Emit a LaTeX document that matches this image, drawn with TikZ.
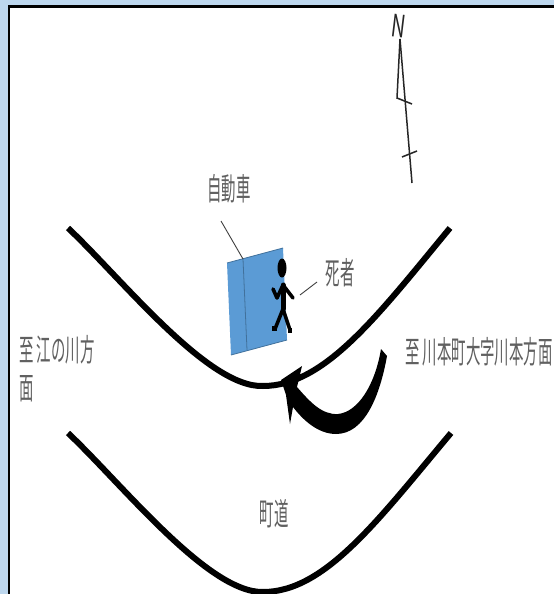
\documentclass[tikz,border=0pt]{standalone}
\usepackage{fontspec}
\usepackage{graphicx}
\newfontfamily\cjk{Noto Sans CJK JP}
\newcommand{\nar}[1]{\scalebox{.465}[1]{#1}}
\definecolor{pagebg}{HTML}{BDD7EE}
\definecolor{carblue}{HTML}{5B9BD5}
\definecolor{caredge}{HTML}{41719C}
\definecolor{txt}{HTML}{606060}
\tikzset{
  road/.style={line width=6pt,black},
  leader/.style={line width=.9pt,draw=black!75},
  limb/.style={line width=3.6pt,black,line cap=round,line join=round},
  lab/.style={font=\cjk\fontsize{31}{34}\selectfont,text=txt,inner sep=0pt},
  compass/.style={line width=1.5pt,draw=black!85},
}
\begin{document}
\begin{tikzpicture}[x=1pt,y=-1pt]
\useasboundingbox (0,0) rectangle (554,594);
\fill[pagebg] (0,0) rectangle (554,594);
\fill[white] (8,6) rectangle (554,594);
\draw[line width=2.4pt,black] (9,594) -- (9,6.5) -- (554,6.5);
% roads
\coordinate (r1a) at (68,228); \coordinate (r1b) at (450,228);
\coordinate (r2a) at (68,433); \coordinate (r2b) at (451,433);
\draw[road] (r1a) .. controls (122,279) and (208,388) .. (263,386) .. controls (325,386) and (378,315) .. (r1b);
\draw[road] (r2a) .. controls (122,484) and (208,593) .. (263,592) .. controls (325,592) and (378,520) .. (r2b);
% car
\coordinate (c1) at (227,263); \coordinate (c2) at (283,248);
\coordinate (c3) at (287,340); \coordinate (c4) at (231,355);
\coordinate (d1) at (243,259); \coordinate (d2) at (247,350);
\fill[carblue] (c1) -- (c2) -- (c3) -- (c4) -- cycle;
\draw[line width=.8pt,caredge] (c1) -- (c2) (c3) -- (c4);
\draw[line width=.8pt,caredge] (d1) -- (d2);
\coordinate (l1) at (221,221);
\draw[leader] (l1) -- (d1);
% person
\fill[black] (282,268) ellipse (4.5 and 9.5);
\coordinate (sh) at (283,285); \coordinate (hip) at (283,309);
\draw[limb,line width=5pt] (sh) -- (hip);
\draw[limb] (hip) -- (275,329) (hip) -- (290,330);
\draw[limb] (sh) -- (277,298) -- (273,289);
\draw[limb] (sh) -- (293,298);
\fill[black] (272,326) rectangle (277,331);
\fill[black] (288,328) rectangle (292,333);
\coordinate (l2) at (300,295); \coordinate (l3) at (317,282);
\draw[leader] (l2) -- (l3);
% curved arrow
\fill[black] (381,349) -- (387,356)
  .. controls (380,395) and (365,434) .. (336,434)
  .. controls (318,434) and (303,420) .. (293,407)
  -- (290,424) -- (286,395) -- (281,380) -- (302,366) -- (297,387)
  .. controls (310,402) and (322,415) .. (338,414)
  .. controls (358,412) and (375,385) .. (381,349) -- cycle;
% compass
\coordinate (ntop) at (400,39); \coordinate (nbot) at (412,183);
\coordinate (nbase) at (397,98); \coordinate (nb2) at (412,104);
\coordinate (nc1) at (402,157); \coordinate (nc2) at (417,151);
\draw[compass] (ntop) -- (nbot);
\draw[compass] (ntop) -- (nbase) -- (nb2);
\draw[compass] (nc1) -- (nc2);
\node[font=\cjk\fontsize{31}{31}\selectfont,text=black!85,inner sep=0pt,rotate=-7] (north) at (399,26) {\scalebox{.62}[1]{N}};
% labels
\node[lab] (car) at (229,189) {\nar{自動車}};
\node[lab] (victim) at (340,273) {\nar{死者}};
\node[lab,anchor=west] (east) at (405,352) {\nar{至 川本町大字川本方面}};
\node[lab,anchor=west] (west1) at (19,350) {\nar{至 江の川方}};
\node[lab,anchor=west] (west2) at (19,389) {\nar{面}};
\node[lab] (town) at (274,514) {\nar{町道}};
\end{tikzpicture}
\end{document}
